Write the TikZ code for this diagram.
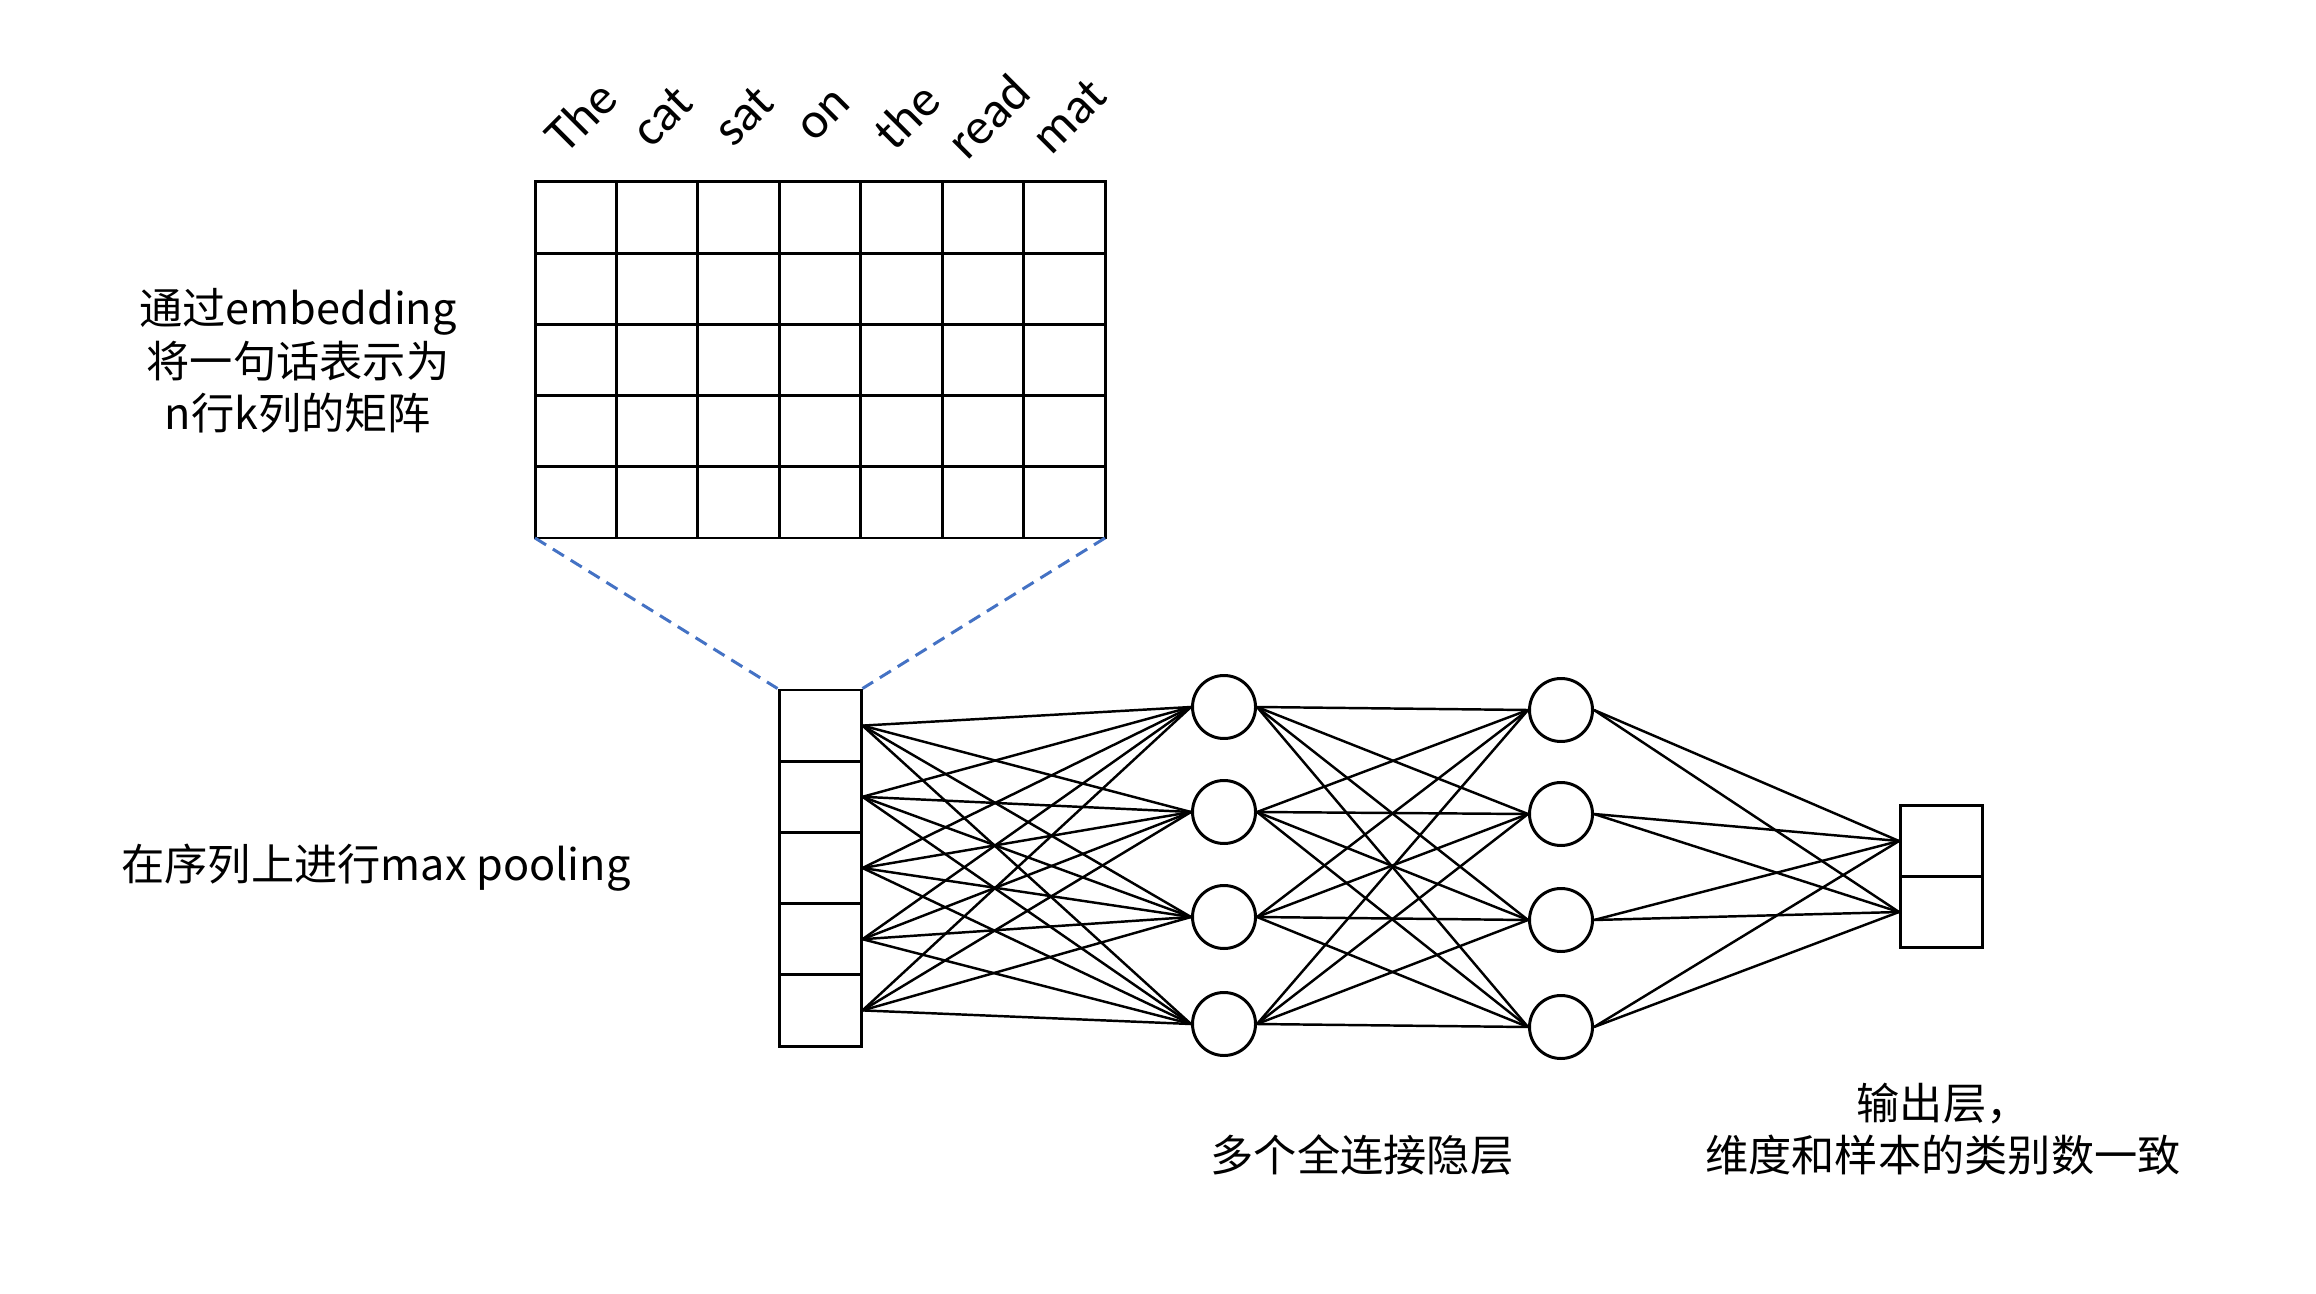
\documentclass[tikz,border=0pt]{standalone}
\usepackage{fontspec}
\setmainfont{Noto Sans CJK SC}
\newfontfamily\wordfont{Carlito}
\definecolor{dashblue}{HTML}{4472C4}

\begin{document}
\begin{tikzpicture}[font=\fontsize{12.3}{15}\selectfont,
  cell/.style={draw, line width=0.85pt, minimum width=0.82cm, minimum height=0.712cm, inner sep=0pt},
  unit/.style={draw, circle, line width=0.85pt, minimum size=0.63cm, inner sep=0pt},
  link/.style={line width=0.7pt},
  zoomline/.style={dashblue, line width=0.85pt, dash pattern=on 0.13cm off 0.08cm},
  word/.style={font=\wordfont\fontsize{14.5}{17}\selectfont, rotate=45}]
\useasboundingbox (0,0) rectangle (23.16,-12.94);
\coordinate (GL) at (5.35,-5.38); \coordinate (GR) at (11.05,-5.38); \coordinate (GT) at (5.35,-1.82);
\draw[line width=0.85pt] (GT) rectangle (GR);
\foreach \c in {1,...,6} \draw[line width=0.85pt] ({5.35+\c*0.8143},-1.82) -- ({5.35+\c*0.8143},-5.38);
\foreach \r in {1,...,4} \draw[line width=0.85pt] (5.35,{-1.82-\r*0.712}) -- (11.05,{-1.82-\r*0.712});
\foreach \w [count=\k] in {The,cat,sat,on,the,read,mat} \node[word] (w\k) at ({5.35+(\k-0.5)*0.8143+0.05},-1.16) {\w};
\foreach \i in {1,...,5} \node[cell] (p\i) at (8.20,{-6.90-(\i-0.5)*0.712}) {};
\foreach \i/\y in {1/7.07,2/8.12,3/9.17,4/10.24} \node[unit] (h\i) at (12.24,-\y) {};
\foreach \i/\y in {1/7.10,2/8.14,3/9.20,4/10.27} \node[unit] (g\i) at (15.61,-\y) {};
\node[cell] (o1) at (19.415,-8.41) {}; \node[cell] (o2) at (19.415,-9.12) {};
\draw[zoomline] (GL) -- (p1.north west); \draw[zoomline] (GR) -- (p1.north east);
\foreach \i in {1,...,5} \foreach \j in {1,...,4} \draw[link] (p\i.east) -- (h\j.west);
\foreach \i in {1,...,4} \foreach \j in {1,...,4} \draw[link] (h\i.east) -- (g\j.west);
\foreach \i in {1,...,4} \foreach \j in {1,2} \draw[link] (g\i.east) -- (o\j.west);
\node[align=center] (embedtxt) at (2.98,-3.61) {通过embedding\\将一句话表示为\\n行k列的矩阵};
\node (pooltxt) at (3.76,-8.68) {在序列上进行max pooling};
\node (hiddentxt) at (13.62,-11.55) {多个全连接隐层};
\node[align=center] (outtxt) at (19.43,-11.29) {输出层，\\维度和样本的类别数一致};
\end{tikzpicture}
\end{document}
